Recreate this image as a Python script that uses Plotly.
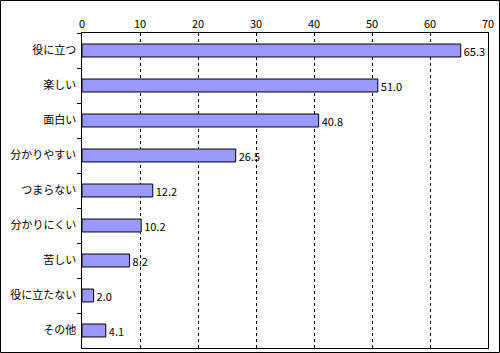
import plotly.graph_objects as go

categories = ["役に立つ", "楽しい", "面白い", "分かりやすい", "つまらない", "分かりにくい", "苦しい", "役に立たない", "その他"]
values = [65.3, 51.0, 40.8, 26.5, 12.2, 10.2, 8.2, 2.0, 4.1]
labels = [f"{v:.1f}" for v in values]

W, H = 500, 353
L, R, T, B = 82, 12, 33, 5
pw, ph = W - L - R, H - T - B

fig = go.Figure(go.Bar(
    x=values, y=categories, orientation="h",
    marker=dict(color="#9999FF", line=dict(color="black", width=1)),
    width=0.37,
    text=labels, textposition="outside", cliponaxis=False,
    constraintext="none",
    textfont=dict(family="Noto Sans CJK JP", size=11, color="black"),
))

fig.update_layout(
    width=W, height=H,
    margin=dict(l=L, r=R, t=T, b=B, pad=0),
    paper_bgcolor="white", plot_bgcolor="white",
    showlegend=False,
    font=dict(family="Noto Sans CJK JP", size=11, color="black"),
    xaxis=dict(range=[0, 70], dtick=10, side="top", showgrid=True,
               gridcolor="black", griddash="3px,3px", gridwidth=1,
               showline=True, linecolor="black", linewidth=1, mirror=True,
               ticks="", zeroline=False, fixedrange=True,
               tickfont=dict(size=11)),
    yaxis=dict(autorange="reversed", showline=True, linecolor="black", linewidth=1,
               mirror=True, ticks="outside", tickson="boundaries", ticklen=4,
               tickcolor="black", showgrid=False, ticksuffix=" ",
               tickfont=dict(size=11)),
    bargap=0.63,
    shapes=[dict(type="rect", xref="paper", yref="paper",
                 x0=(0.5 - L) / pw, x1=(W - 0.5 - L) / pw,
                 y0=(H - T - B - (H - 0.5 - T)) / ph, y1=(H - T - B - (0.5 - T)) / ph,
                 line=dict(color="black", width=1))],
)

fig.write_html("out.html")
